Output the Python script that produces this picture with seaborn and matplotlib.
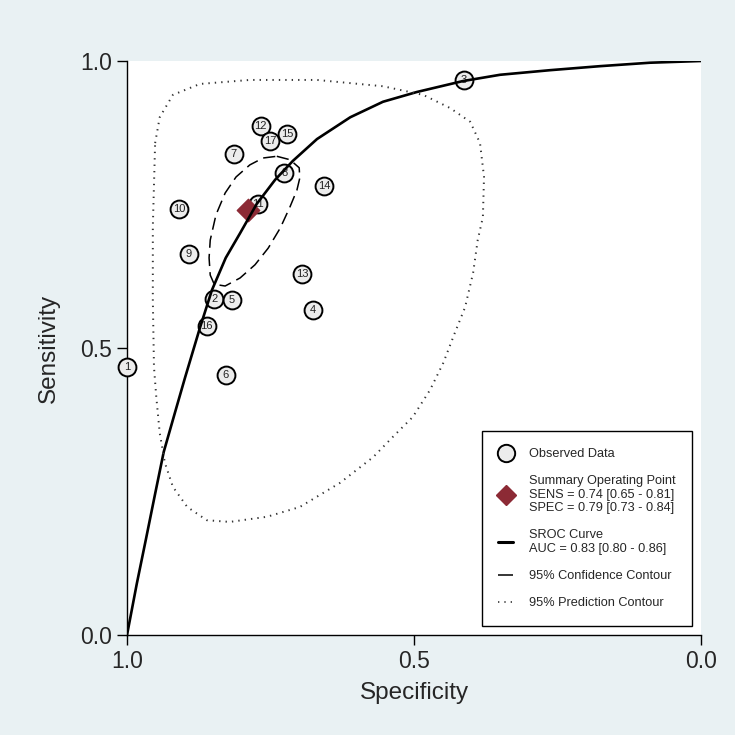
import matplotlib
matplotlib.use('Agg')
import matplotlib.pyplot as plt
from matplotlib.lines import Line2D
import pandas as pd
import seaborn as sns

# observed studies
study = ['1', '2', '3', '4', '5', '6', '7', '8', '9', '10',
         '11', '12', '13', '14', '15', '16', '17']
spec = [1.000, 0.848, 0.413, 0.676, 0.817, 0.828, 0.814, 0.726, 0.892, 0.909,
        0.772, 0.767, 0.695, 0.657, 0.721, 0.861, 0.751]
sens = [0.467, 0.585, 0.967, 0.566, 0.584, 0.453, 0.838, 0.805, 0.664, 0.742,
        0.751, 0.887, 0.629, 0.782, 0.873, 0.538, 0.861]

# summary operating point
sum_spec = 0.79
sum_sens = 0.74

# SROC curve
sroc_spec = [1.000, 0.983, 0.967, 0.951, 0.936, 0.916, 0.899, 0.873, 0.852, 0.828,
             0.803, 0.774, 0.742, 0.711, 0.669, 0.611, 0.554, 0.495, 0.415, 0.350,
             0.263, 0.176, 0.089, 0.000]
sroc_sens = [0.000, 0.089, 0.167, 0.246, 0.319, 0.389, 0.448, 0.535, 0.601, 0.657,
             0.700, 0.751, 0.793, 0.826, 0.864, 0.902, 0.929, 0.946, 0.965, 0.976,
             0.984, 0.991, 0.997, 1.000]

# 95% confidence contour
conf_spec = [0.739, 0.716, 0.700, 0.699, 0.704, 0.716, 0.733, 0.754, 0.777, 0.803,
             0.829, 0.848, 0.855, 0.857, 0.855, 0.845, 0.829, 0.810, 0.786, 0.763, 0.739]
conf_sens = [0.834, 0.828, 0.814, 0.796, 0.775, 0.746, 0.709, 0.674, 0.645, 0.622,
             0.608, 0.611, 0.627, 0.657, 0.688, 0.732, 0.770, 0.798, 0.819, 0.831, 0.834]

# 95% prediction contour
pred_spec = [0.951, 0.943, 0.920, 0.873, 0.786, 0.669, 0.554, 0.484, 0.437, 0.402,
             0.385, 0.378, 0.380, 0.389, 0.397, 0.411, 0.429, 0.449, 0.472, 0.502,
             0.537, 0.571, 0.629, 0.699, 0.756, 0.821, 0.861, 0.895, 0.920, 0.934,
             0.943, 0.949, 0.953, 0.955, 0.955, 0.951]
pred_sens = [0.857, 0.902, 0.941, 0.960, 0.967, 0.967, 0.956, 0.941, 0.918, 0.894,
             0.857, 0.798, 0.728, 0.688, 0.631, 0.571, 0.526, 0.474, 0.427, 0.380,
             0.345, 0.310, 0.265, 0.223, 0.206, 0.197, 0.200, 0.223, 0.258, 0.300,
             0.352, 0.415, 0.467, 0.584, 0.711, 0.857]

legend_labels = ['Observed Data',
                 'Summary Operating Point\nSENS = 0.74 [0.65 - 0.81]\nSPEC = 0.79 [0.73 - 0.84]',
                 'SROC Curve\nAUC = 0.83 [0.80 - 0.86]',
                 '95% Confidence Contour',
                 '95% Prediction Contour']

sns.set_theme(style='white')
plt.rcParams['font.family'] = ['Liberation Sans', 'DejaVu Sans']

bg = '#E9F1F3'
red = '#8C2A35'
circ_fill = '#ECECEC'

df = pd.DataFrame({'study': study, 'spec': spec, 'sens': sens})
sroc = pd.DataFrame({'spec': sroc_spec, 'sens': sroc_sens})
conf = pd.DataFrame({'spec': conf_spec, 'sens': conf_sens})
pred = pd.DataFrame({'spec': pred_spec, 'sens': pred_sens})

fig = plt.figure(figsize=(7.35, 7.35), dpi=100, facecolor=bg)
ax = fig.add_axes([127 / 735, 100 / 735, 574 / 735, 574 / 735])
ax.set_facecolor('white')

sns.scatterplot(data=df, x='spec', y='sens', s=165, color=circ_fill,
                edgecolor='black', linewidth=1.4, zorder=3, clip_on=False, ax=ax)
for _, r in df.iterrows():
    ax.text(r['spec'], r['sens'], r['study'], ha='center', va='center',
            fontsize=8, color='#222222', zorder=4, clip_on=False)

ax.scatter([sum_spec], [sum_sens], marker='D', s=130, color=red,
           edgecolor=red, zorder=5)

sns.lineplot(data=sroc, x='spec', y='sens', sort=False, estimator=None,
             color='black', linewidth=1.9, zorder=6, ax=ax)
sns.lineplot(data=conf, x='spec', y='sens', sort=False, estimator=None,
             color='black', linewidth=1.1, zorder=6, ax=ax)
ax.lines[-1].set_linestyle((0, (8, 4)))
sns.lineplot(data=pred, x='spec', y='sens', sort=False, estimator=None,
             color='#333333', linewidth=1.4, zorder=6, ax=ax)
ax.lines[-1].set_linestyle((0, (0.7, 2.6)))

ax.set_xlim(1, 0)
ax.set_ylim(0, 1)
ax.set_xticks([1.0, 0.5, 0.0])
ax.set_yticks([0.0, 0.5, 1.0])
ax.set_xticklabels(['1.0', '0.5', '0.0'])
ax.set_yticklabels(['0.0', '0.5', '1.0'])
ax.tick_params(axis='both', which='both', direction='out', length=7, width=1.0,
               color='black', labelsize=16.5, bottom=True, left=True, pad=4)
for s in ['top', 'right']:
    ax.spines[s].set_visible(False)
for s in ['left', 'bottom']:
    ax.spines[s].set_color('black')
    ax.spines[s].set_linewidth(1.0)
ax.set_xlabel('Specificity', fontsize=17.5, labelpad=6)
ax.set_ylabel('Sensitivity', fontsize=17.5, labelpad=14)

handles = [
    Line2D([], [], marker='o', linestyle='none', markersize=12.5,
           markerfacecolor=circ_fill, markeredgecolor='black', markeredgewidth=1.4),
    Line2D([], [], marker='D', linestyle='none', markersize=10,
           markerfacecolor=red, markeredgecolor=red),
    Line2D([], [], color='black', linewidth=2.2),
    Line2D([], [], color='black', linewidth=1.1, linestyle=(0, (12, 4))),
    Line2D([], [], color='#333333', linewidth=1.2, linestyle=(0, (0.8, 3))),
]
leg = ax.legend(handles, legend_labels, loc='lower right', fontsize=9.2,
                frameon=True, fancybox=False, framealpha=1, edgecolor='black',
                handlelength=1.2, handletextpad=1.2, labelspacing=1.2,
                borderpad=1.3, borderaxespad=0.7)
for t in leg.get_texts():
    t.set_linespacing(1.15)
leg.get_frame().set_linewidth(1.0)
leg.set_zorder(10)

fig.savefig('out.png', dpi=100, facecolor=bg)
